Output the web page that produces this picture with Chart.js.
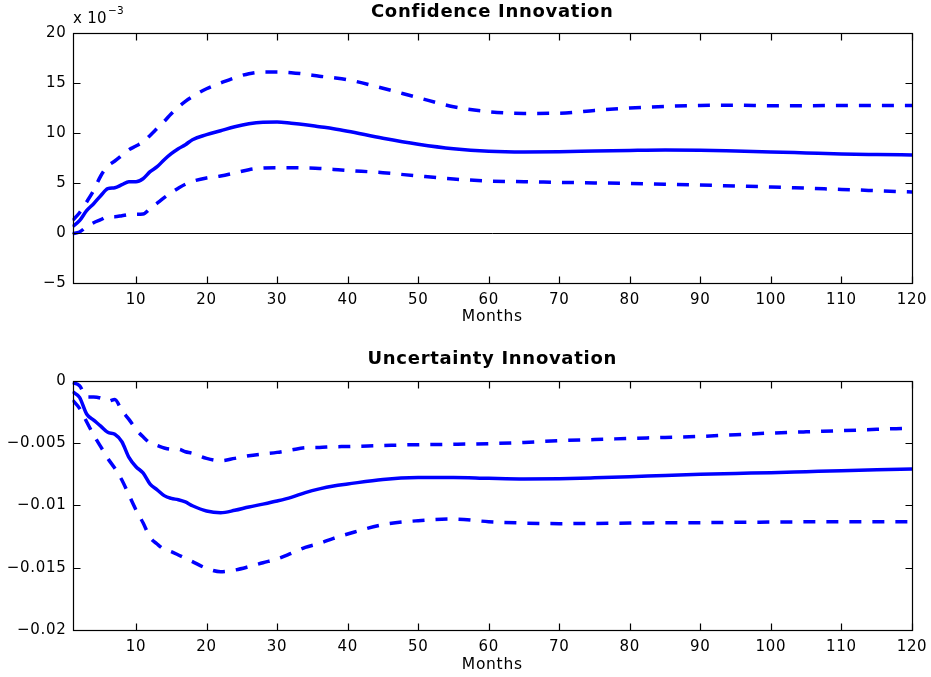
<!DOCTYPE html>
<html><head><meta charset="utf-8">
<script src="https://cdn.jsdelivr.net/npm/chart.js@4.4.1/dist/chart.umd.min.js"></script>
<style>
html,body{margin:0;padding:0;background:#fff;}
#wrap{position:relative;width:931px;height:677px;overflow:hidden;}
canvas{position:absolute;left:0;}
#c1{top:0}
#c2{top:338px}
</style></head><body>
<div id="wrap"><canvas id="c1" width="931" height="338"></canvas><canvas id="c2" width="931" height="339"></canvas></div>
<script>
// ---- data ----
const months = [1,2,3,4,5,6,7,8,9,10,11,12,13,14,15,16,17,18,20,22,24,26,28,30,32,34,36,38,40,45,50,55,60,65,70,75,80,85,90,95,100,105,110,115,120];

// Confidence innovation (units of 10^-3)
const confMid = [0.6,1.2,2.2,2.9,3.7,4.4,4.5,4.8,5.1,5.1,5.4,6.1,6.6,7.3,7.9,8.4,8.8,9.3,9.8,10.2,10.6,10.9,11.05,11.07,10.95,10.8,10.6,10.4,10.15,9.45,8.85,8.4,8.15,8.08,8.1,8.17,8.23,8.27,8.25,8.17,8.08,7.98,7.88,7.82,7.77];
const confUpper = [1.23,2.0,3.07,4.23,5.67,6.67,7.17,7.73,8.3,8.67,9.07,9.73,10.43,11.13,11.9,12.57,13.13,13.6,14.4,14.97,15.5,15.9,16.07,16.07,16.0,15.85,15.65,15.5,15.3,14.45,13.5,12.6,12.1,11.93,11.95,12.23,12.47,12.63,12.73,12.75,12.7,12.7,12.72,12.73,12.73];
const confLower = [-0.1,0.07,0.6,1.0,1.3,1.6,1.6,1.7,1.82,1.84,1.86,2.4,2.95,3.5,4.0,4.45,4.85,5.13,5.47,5.67,5.97,6.3,6.47,6.5,6.5,6.47,6.43,6.33,6.23,6.0,5.67,5.37,5.17,5.1,5.03,4.98,4.93,4.85,4.77,4.67,4.57,4.45,4.33,4.2,4.07];

// Uncertainty innovation
const uncMid = [-0.00088,-0.00134,-0.00267,-0.00316,-0.00364,-0.00414,-0.0043,-0.0049,-0.00615,-0.00690,-0.0074,-0.0083,-0.00875,-0.00922,-0.00944,-0.00955,-0.00973,-0.01003,-0.01045,-0.01059,-0.0104,-0.01013,-0.0099,-0.00965,-0.00936,-0.00898,-0.00868,-0.00845,-0.00829,-0.00792,-0.00777,-0.00776,-0.00783,-0.00788,-0.00786,-0.00779,-0.0077,-0.0076,-0.00751,-0.00744,-0.00738,-0.0073,-0.00722,-0.00715,-0.00709];
const uncUpper = [-0.00015,-0.0004,-0.0013,-0.0013,-0.0014,-0.00165,-0.0015,-0.0024,-0.0031,-0.0039,-0.0045,-0.005,-0.0052,-0.0054,-0.0055,-0.0055,-0.0057,-0.00583,-0.00623,-0.00642,-0.00623,-0.00602,-0.00588,-0.00575,-0.00556,-0.00538,-0.00535,-0.0053,-0.00528,-0.0052,-0.00513,-0.0051,-0.00505,-0.00495,-0.00481,-0.00472,-0.00463,-0.00455,-0.00447,-0.00433,-0.0042,-0.0041,-0.00401,-0.0039,-0.0038];
const uncLower = [-0.00155,-0.00222,-0.00329,-0.00436,-0.00529,-0.00623,-0.00703,-0.00797,-0.00917,-0.01037,-0.0114,-0.01257,-0.0131,-0.01353,-0.01372,-0.01398,-0.01425,-0.01452,-0.01505,-0.01532,-0.01519,-0.01492,-0.0146,-0.0143,-0.01385,-0.01337,-0.01305,-0.01265,-0.0123,-0.01155,-0.01123,-0.0111,-0.01131,-0.01142,-0.01147,-0.01145,-0.01142,-0.0114,-0.01139,-0.01136,-0.01134,-0.01132,-0.01131,-0.01131,-0.01131];

// tick labels
const xTicks = [10,20,30,40,50,60,70,80,90,100,110,120];
const confYTicks = [-5,0,5,10,15,20];
const uncYTicks = [-0.02,-0.015,-0.01,-0.005,0];

// ---- rendering ----
const FONT = "'DejaVu Sans', 'Liberation Sans', Arial, sans-serif";
const BLUE = '#0000ff';
Chart.defaults.font.family = FONT;
Chart.defaults.color = '#000';

function pts(ys){ return months.map((m,i)=>({x:m, y:ys[i]})); }
function fmt(v){ return String(v).replace('-', '\u2212'); }
function ds(ys, dashed){
  return {data: pts(ys), borderColor: BLUE, borderWidth: 3.5, pointRadius: 0,
    borderDash: dashed ? [12,11] : [], borderCapStyle: 'butt', borderJoinStyle: 'round',
    cubicInterpolationMode: 'monotone', fill: false};
}

const framePlugin = {
  id: 'frame',
  beforeDraw(chart){ chart.ctx.letterSpacing = '0.7px'; },
  afterDraw(chart){ chart.ctx.letterSpacing = '0px'; },
  beforeDatasetsDraw(chart, args, opts){
    if (!opts.zeroLine) return;
    const {ctx, chartArea: a, scales: {y}} = chart;
    const py = Math.round(y.getPixelForValue(0)) + 0.5;
    ctx.save(); ctx.strokeStyle = '#000'; ctx.lineWidth = 1;
    ctx.beginPath(); ctx.moveTo(a.left, py); ctx.lineTo(a.right, py); ctx.stroke();
    ctx.restore();
  },
  afterDatasetsDraw(chart, args, opts){
    const {ctx, chartArea: a, scales: {x, y}} = chart;
    const L = Math.round(a.left)+0.5, R = Math.round(a.right)+0.5, T = Math.round(a.top)+0.5, B = Math.round(a.bottom)+0.5;
    ctx.save(); ctx.strokeStyle = '#000'; ctx.lineWidth = 1.2;
    ctx.strokeRect(L, T, R-L, B-T);
    const tl = 7;
    ctx.beginPath();
    x.ticks.forEach(t => {
      const px = Math.round(x.getPixelForValue(t.value)) + 0.5;
      ctx.moveTo(px, B); ctx.lineTo(px, B - tl);
      ctx.moveTo(px, T); ctx.lineTo(px, T + tl);
    });
    y.ticks.forEach(t => {
      const py = Math.round(y.getPixelForValue(t.value)) + 0.5;
      ctx.moveTo(L, py); ctx.lineTo(L + tl, py);
      ctx.moveTo(R, py); ctx.lineTo(R - tl, py);
    });
    ctx.stroke();
    if (opts.multiplier) {
      ctx.letterSpacing = '0.3px';
      ctx.fillStyle = '#000';
      ctx.textBaseline = 'middle'; ctx.textAlign = 'left';
      ctx.font = '15px ' + FONT;
      const base = 'x 10';
      ctx.fillText(base, 73, 19);
      const w = ctx.measureText(base).width;
      ctx.font = '10.5px ' + FONT;
      ctx.fillText(opts.multiplier, 73 + w + 1, 11);
    }
    ctx.restore();
  }
};

function makeChart(id, cfg){
  return new Chart(document.getElementById(id), {
    type: 'line',
    data: {datasets: [ds(cfg.mid,false), ds(cfg.up,true), ds(cfg.lo,true)]},
    plugins: [framePlugin],
    options: {
      responsive: false, animation: false, devicePixelRatio: 1,
      layout: {padding: {left: 0, right: 19, top: 0, bottom: 0}},
      plugins: {
        legend: {display: false}, tooltip: {enabled: false},
        title: {display: true, text: cfg.title, fullSize: false, color: '#000',
          font: {size: 18, weight: 'bold', family: FONT}, padding: cfg.titlePad},
        frame: {zeroLine: cfg.zeroLine, multiplier: cfg.multiplier}
      },
      scales: {
        x: {type: 'linear', min: 1, max: 120,
          grid: {display: false, drawTicks: false}, border: {display: false},
          ticks: {font: {size: 15}, color: '#000', padding: 8, autoSkip: false, maxRotation: 0},
          title: {display: true, text: 'Months', color: '#000', font: {size: 15.5}, padding: {top: 0, bottom: cfg.monthsPad}},
          afterBuildTicks(s){ s.ticks = xTicks.map(v => ({value: v})); },
          afterFit(s){ s.height = cfg.xHeight; s.paddingLeft = 0; s.paddingRight = 0; }
        },
        y: {type: 'linear', min: cfg.ymin, max: cfg.ymax,
          grid: {display: false, drawTicks: false}, border: {display: false},
          ticks: {font: {size: 15}, color: '#000', padding: 6, autoSkip: false, callback: v => fmt(v)},
          afterBuildTicks(s){ s.ticks = cfg.yTicks.map(v => ({value: v})); },
          afterFit(s){ s.width = 72.5; s.paddingTop = 0; s.paddingBottom = 0; }
        }
      }
    }
  });
}

makeChart('c1', {mid: confMid, up: confUpper, lo: confLower, title: 'Confidence Innovation',
  titlePad: {top: 1.7, bottom: 9.4}, ymin: -5, ymax: 20, yTicks: confYTicks,
  xHeight: 55.3, monthsPad: 11.5, zeroLine: true, multiplier: '\u22123'});
makeChart('c2', {mid: uncMid, up: uncUpper, lo: uncLower, title: 'Uncertainty Innovation',
  titlePad: {top: 10.2, bottom: 10.9}, ymin: -0.02, ymax: 0, yTicks: uncYTicks,
  xHeight: 47, monthsPad: 2.5, zeroLine: false, multiplier: null});
</script>
</body></html>
